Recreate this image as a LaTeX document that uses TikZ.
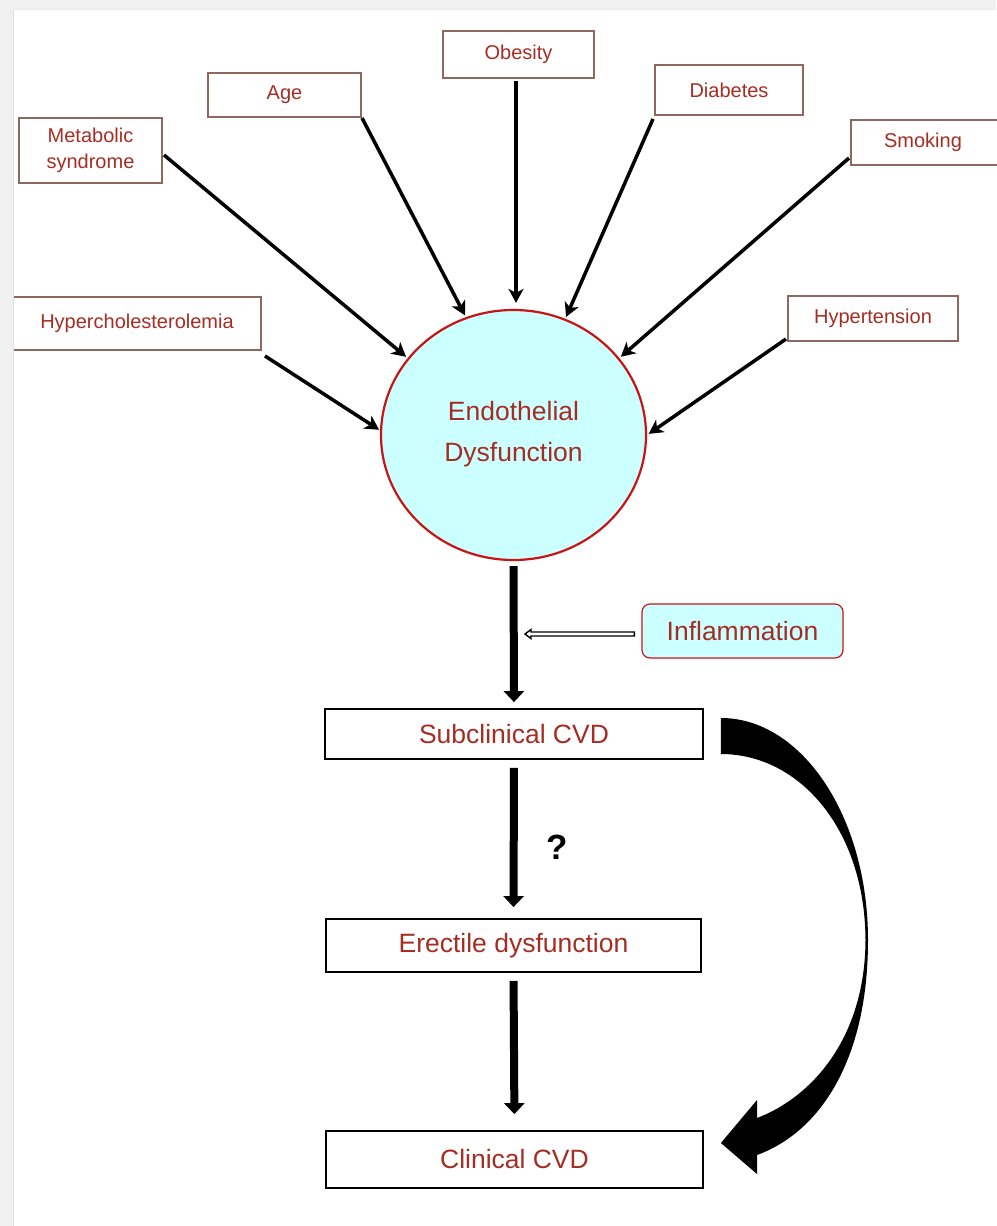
\documentclass[tikz,border=0pt]{standalone}
\usepackage{fontspec}
\setmainfont{Liberation Sans}
\usetikzlibrary{shapes.geometric,arrows.meta,calc}
\definecolor{txtred}{RGB}{165,45,35}
\definecolor{boxbrown}{RGB}{140,105,95}
\definecolor{circred}{RGB}{200,20,20}
\definecolor{cyanfill}{RGB}{204,255,255}
\definecolor{framegray}{RGB}{240,240,240}
\tikzset{
  riskbox/.style={draw=boxbrown, line width=2pt, fill=white, text=txtred, align=center,
    font=\fontsize{20}{26}\selectfont, inner sep=0pt},
  stagebox/.style={draw=black, line width=1.8pt, fill=white, text=txtred,
    font=\fontsize{26.5}{32}\selectfont, inner sep=0pt},
  thinarrow/.style={line width=3.5pt, -{Stealth[length=14pt,width=15pt,inset=4pt]}},
  thickarrow/.style={line width=8pt, -{Triangle[length=11pt,width=20pt]}},
}
\begin{document}
\begin{tikzpicture}[x=1pt,y=-1pt]
\useasboundingbox (0,0) rectangle (996,1226);
\fill[white] (0,0) rectangle (996,1226);

% risk factor boxes
\node[riskbox, minimum width=143pt, minimum height=65pt] (meta) at (90.5,150.5) {Metabolic\\syndrome};
\node[riskbox, minimum width=153pt, minimum height=44pt] (age) at (284.5,95) {Age};
\node[riskbox, minimum width=151pt, minimum height=47pt] (obes) at (518.5,54.5) {Obesity};
\node[riskbox, minimum width=148pt, minimum height=50pt] (diab) at (729,90) {Diabetes};
\node[riskbox, minimum width=150pt, minimum height=45pt] (smok) at (926,142.5) {\hspace*{-6pt}Smoking};
\node[riskbox, minimum width=251pt, minimum height=53pt] (hyp) at (135.5,323.5) {\hspace*{3pt}Hypercholesterolemia};
\node[riskbox, minimum width=170pt, minimum height=45pt] (hten) at (873,318.5) {Hypertension};

% central ellipse
\node[ellipse, draw=circred, line width=2.2pt, fill=cyanfill,
  minimum width=265pt, minimum height=250pt, inner sep=0pt] (ed) at (513.5,435) {};
\node[text=txtred, align=center, font=\fontsize{26.5}{41}\selectfont] (edt) at (513.5,434) {Endothelial\\Dysfunction};

% arrows into ellipse
\draw[thinarrow, shorten >=2pt] ($(meta.east)+(1,4.5)$) -- (ed.144.6);
\draw[thinarrow, shorten >=2pt] (age.south east) -- (ed.112.7);
\draw[thinarrow, shorten <=2pt, shorten >=6pt] ([xshift=-2.5pt]obes.south) -- ([xshift=2.5pt]ed.north);
\draw[thinarrow, shorten >=2pt] ($(diab.south west)+(-1,3)$) -- (ed.66.5);
\draw[thinarrow, shorten >=2pt] ($(smok.west)+(-1,15.5)$) -- (ed.36.2);
\draw[thinarrow, shorten >=1pt] ($(hyp.south east)+(3,5)$) -- (ed.178.7);
\draw[thinarrow, shorten >=2pt] ($(hten.south west)+(-1,-3)$) -- (ed.-0.8);

% stage boxes
\node[stagebox, minimum width=378pt, minimum height=50pt] (sub) at (514,734) {Subclinical CVD};
\node[stagebox, minimum width=375pt, minimum height=53pt] (erec) at (513.5,945.5) {Erectile dysfunction};
\node[stagebox, minimum width=377pt, minimum height=57pt] (clin) at (514.5,1159.5) {Clinical CVD};

% inflammation
\node[draw=circred, line width=1.2pt, rounded corners=8pt, fill=cyanfill, text=txtred,
  minimum width=201pt, minimum height=54pt, inner sep=0pt,
  font=\fontsize{26.5}{32}\selectfont] (infl) at (742.5,631) {Inflammation};

% vertical arrows
\draw[thickarrow, shorten <=5pt, shorten >=6pt] (ed.south) -- (sub.north);
\draw[thickarrow, shorten <=8pt, shorten >=11pt] (sub.south) -- (erec.north);
\draw[thickarrow, shorten <=8pt, shorten >=16pt] (erec.south) -- (clin.north);

% question mark
\node[font=\bfseries\fontsize{35}{40}\selectfont, text=black] (q) at (557,847) {?};

% hollow inflammation arrow
\coordinate (ia) at ($(infl.west)+(-7,3)$);
\coordinate (ib) at (525,634);
\draw[line width=1.4pt, fill=white, line join=miter]
  ($(ia)+(0,-2)$) -- ($(ib)+(6,-2)$) -- ($(ib)+(6,-4.5)$) -- (ib) -- ($(ib)+(6,4.5)$)
  -- ($(ib)+(6,2)$) -- ($(ia)+(0,2)$) -- cycle;

% big curved arrow from subclinical to clinical
\fill[black]
  ($(sub.east)+(17,-16)$) .. controls (802,718) and (868,817) .. (868,940)
  .. controls (868,1060) and (820,1132) .. (757,1155)
  -- (757,1174) -- ($(clin.east)+(17,-16.5)$) -- (757,1100) -- (757,1118)
  .. controls (810,1098) and (865,1040) .. (865.5,940)
  .. controls (865,830) and (800,754) .. ($(sub.east)+(17,20)$) -- cycle;

% frame
\fill[framegray] (0,0) rectangle (996,9);
\fill[framegray] (0,0) rectangle (13,1226);
\draw[gray!25, line width=0.8pt] (13,9) -- (13,1226);
\draw[gray!15, line width=0.8pt] (13,9) -- (996,9);
\end{tikzpicture}
\end{document}
